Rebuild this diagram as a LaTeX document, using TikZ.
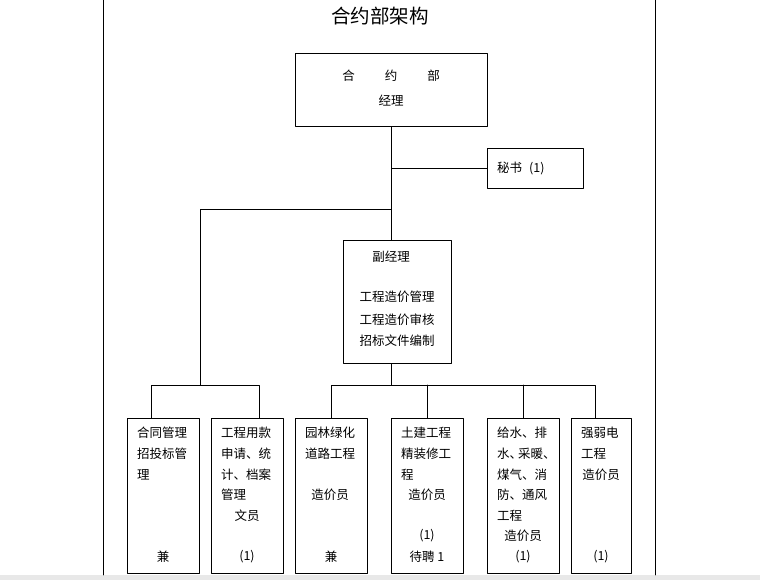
\documentclass[tikz,border=0pt]{standalone}
\usepackage{fontspec}
\newfontfamily\cjk{Noto Sans CJK SC}

\begin{document}
\begin{tikzpicture}[line cap=round,line join=round,x=1pt,y=-1pt,
  box/.style={draw,line width=0.8pt,inner sep=0pt,anchor=north west},
  txt/.style={font=\cjk\fontsize{12.5}{20.7}\selectfont,inner sep=0pt,align=left,anchor=north west},
  mid/.style={font=\cjk\fontsize{12.5}{14}\selectfont,inner sep=0pt}]

\useasboundingbox (0,0) rectangle (760,580);

% page
\fill [gray!18] (0,575) rectangle (760,580);
\draw [line width=0.8pt] (103,0) -- (103,575);
\draw [line width=0.8pt] (655,0) -- (655,575);

\node [font=\cjk\fontsize{19.5}{22}\selectfont,inner sep=0pt] (title) at (380,16) {合约部架构};

% boxes
\node [box,minimum width=192pt,minimum height=73pt] (jl) at (295,53) {};
\node [box,minimum width=96pt,minimum height=40pt] (ms) at (487,148) {};
\node [box,minimum width=108pt,minimum height=123pt] (fjl) at (343,240) {};

\node [box,minimum width=72pt,minimum height=155pt] (b1) at (127,418) {};
\node [box,minimum width=72pt,minimum height=155pt] (b2) at (211,418) {};
\node [box,minimum width=72pt,minimum height=155pt] (b3) at (295,418) {};
\node [box,minimum width=72pt,minimum height=155pt] (b4) at (391,418) {};
\node [box,minimum width=72pt,minimum height=155pt] (b5) at (487,418) {};
\node [box,minimum width=60pt,minimum height=155pt] (b6) at (571,418) {};

% texts
\node [mid] (jlt1) at (391,76) {合\hspace{30pt}约\hspace{30pt}部};
\node [mid] (jlt2) at (391,101) {经理};
\node [mid,anchor=west] (mst) at (497,168) {秘书\hspace{7pt}(1)};

\node [mid] (fjlt1) at (391,257) {副经理};
\node [mid] (fjlt2) at (397,297) {工程造价管理};
\node [mid] (fjlt3) at (397,320) {工程造价审核};
\node [mid] (fjlt4) at (397,341) {招标文件编制};

\node [txt] (b1t) at (137,427) {合同管理\\招投标管\\理};
\node [mid] (b1n) at (163,557) {兼};

\node [txt] (b2t) at (221,427) {工程用款\\申请、统\\计、档案\\管理};
\node [mid] (b2m) at (247,516) {文员};
\node [mid] (b2n) at (247,557) {(1)};

\node [txt] (b3t) at (305,427) {园林绿化\\道路工程};
\node [mid] (b3m) at (330,495) {造价员};
\node [mid] (b3n) at (331,557) {兼};

\node [txt] (b4t) at (401,427) {土建工程\\精装修工\\程};
\node [mid] (b4m) at (427,495) {造价员};
\node [mid] (b4k) at (427,536) {(1)};
\node [mid] (b4n) at (427,557) {待聘 1};

\node [txt] (b5t) at (497,427) {给水、排\\水、\hspace{-4pt}采暖、\\煤气、消\\防、通风\\工程};
\node [mid] (b5m) at (523,536) {造价员};
\node [mid] (b5n) at (523,557) {(1)};

\node [txt] (b6t) at (581,427) {强弱电\\工程};
\node [mid] (b6m) at (601,475) {造价员};
\node [mid] (b6n) at (601,557) {(1)};

% lines
\coordinate (lt) at (200,209);
\coordinate (l1) at (151,385);
\coordinate (l2) at (259,385);
\coordinate (r4) at (595,385);

\draw [line width=0.8pt] (jl.south) -- (jl.south |- fjl.north);
\draw [line width=0.8pt] (jl.south |- ms.west) -- (ms.west);
\draw [line width=0.8pt] (jl.south |- lt) -- (lt) -- (lt |- l1);
\draw [line width=0.8pt] (l1 |- b1.north) -- (l1) -- (l2) -- (l2 |- b2.north);

\draw [line width=0.8pt] (jl.south |- fjl.south) -- (jl.south |- r4);
\draw [line width=0.8pt] (b3.north) -- (b3.north |- r4) -- (r4) -- (r4 |- b6.north);
\draw [line width=0.8pt] (b4.north) -- (b4.north |- r4);
\draw [line width=0.8pt] (b5.north) -- (b5.north |- r4);
\end{tikzpicture}
\end{document}
